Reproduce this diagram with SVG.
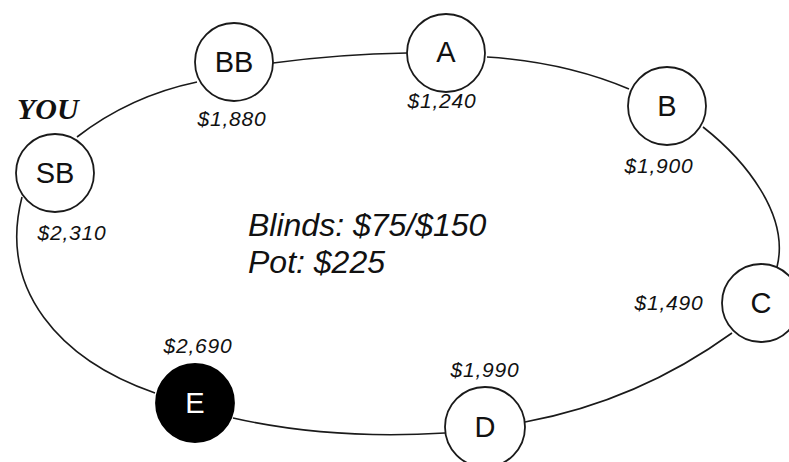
<svg xmlns="http://www.w3.org/2000/svg" width="789" height="462" viewBox="0 0 789 462">
<style>
.conn{fill:none;stroke:#1a1a1a;stroke-width:1.6}
.seat{fill:#fff;stroke:#1a1a1a;stroke-width:1.8}
.dark{fill:#000;stroke:#000;stroke-width:1.8}
.lbl{font-family:"Liberation Sans",Arial,sans-serif;font-size:29px;fill:#111;text-anchor:middle}
.amt{font-family:"Liberation Sans",Arial,sans-serif;font-size:21px;font-style:italic;fill:#111;text-anchor:middle;letter-spacing:0.8px}
.info{font-family:"Liberation Sans",Arial,sans-serif;font-size:32px;font-style:italic;fill:#111}
.you{font-family:"Liberation Serif","Times New Roman",serif;font-size:30px;font-style:italic;font-weight:bold;fill:#111}
</style>
<rect width="789" height="462" fill="#fff"/>
<g id="connectors">
<path class="conn" d="M77,137 Q130,96 197,82"/>
<path class="conn" d="M273,63 Q340,54 407,53"/>
<path class="conn" d="M487,57 Q565,62 629,89"/>
<path class="conn" d="M703,127 C745,160 790,215 777,267"/>
<path class="conn" d="M732,333 Q638,401 525,422"/>
<path class="conn" d="M445,433 Q330,440 233,418"/>
<path class="conn" d="M155,393 C60,360 -2,290 22,197"/>
</g>
<g id="seat-SB"><circle class="seat" cx="55" cy="173" r="39"/><text class="lbl" x="55" y="183">SB</text></g>
<g id="seat-BB"><circle class="seat" cx="234" cy="62" r="39"/><text class="lbl" x="234" y="72">BB</text></g>
<g id="seat-A"><circle class="seat" cx="446" cy="53" r="39"/><text class="lbl" x="446" y="62">A</text></g>
<g id="seat-B"><circle class="seat" cx="667" cy="106" r="39"/><text class="lbl" x="667" y="116">B</text></g>
<g id="seat-C"><circle class="seat" cx="761" cy="303" r="39"/><text class="lbl" x="761" y="313">C</text></g>
<g id="seat-D"><circle class="seat" cx="485" cy="427" r="40"/><text class="lbl" x="485" y="437">D</text></g>
<g id="seat-E"><circle class="dark" cx="195" cy="403" r="39"/><text class="lbl" x="195" y="413" style="fill:#fff">E</text></g>
<g id="labels">
<text class="you" x="17" y="119">YOU</text>
<text class="amt" x="232" y="126">$1,880</text>
<text class="amt" x="442" y="108">$1,240</text>
<text class="amt" x="659" y="173">$1,900</text>
<text class="amt" x="72" y="240">$2,310</text>
<text class="amt" x="669" y="310">$1,490</text>
<text class="amt" x="485" y="377">$1,990</text>
<text class="amt" x="198" y="353">$2,690</text>
<text class="info" x="248" y="236">Blinds: $75/$150</text>
<text class="info" x="248" y="273">Pot: $225</text>
</g>
</svg>
